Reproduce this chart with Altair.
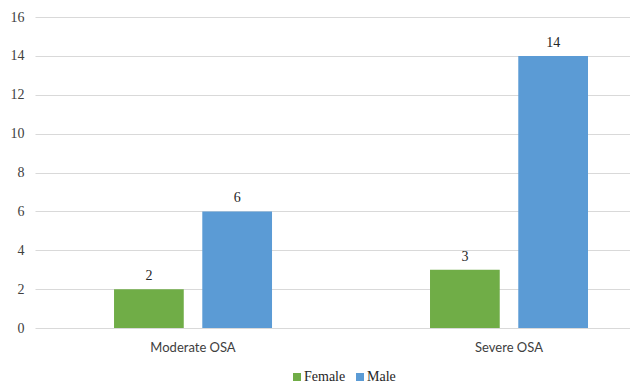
import altair as alt
import pandas as pd

categories = ["Moderate OSA", "Severe OSA"]
female = [2, 3]
male = [6, 14]
sexes = ["Female", "Male"]
colors = ["#70AD47", "#5B9BD5"]

SERIF = "'Liberation Serif', 'Times New Roman', serif"

rows = []
for i, cat in enumerate(categories):
    rows.append({"group": cat, "sex": "Female", "count": female[i]})
    rows.append({"group": cat, "sex": "Male", "count": male[i]})
df = pd.DataFrame(rows)

x_enc = alt.X(
    "group:N",
    sort=categories,
    title=None,
    scale=alt.Scale(paddingInner=0.5, paddingOuter=0.1915, align=0.653),
    axis=alt.Axis(labelAngle=0, grid=False),
)
xoff = alt.XOffset("sex:N", sort=sexes, scale=alt.Scale(paddingInner=0.21, paddingOuter=0))
y_enc = alt.Y(
    "count:Q",
    title=None,
    scale=alt.Scale(domain=[0, 16], nice=False),
    axis=alt.Axis(values=list(range(0, 17, 2)), labelOverlap=False),
)

base = alt.Chart(df).encode(x=x_enc, xOffset=xoff, y=y_enc)

bars = base.mark_bar().encode(
    color=alt.Color(
        "sex:N",
        sort=sexes,
        scale=alt.Scale(domain=sexes, range=colors),
        legend=alt.Legend(
            title=None,
            orient="none",
            direction="horizontal",
            legendX=255,
            legendY=353,
            symbolType="square",
            symbolSize=64,
            symbolStrokeWidth=0,
            labelOffset=0,
            columnPadding=7,
        ),
    ),
)

labels = base.mark_text(
    baseline="bottom", dy=-6, font=SERIF, fontSize=14, color="#262626"
).encode(text="count:Q")

chart = (
    (bars + labels)
    .properties(
        width=595,
        height=311,
        autosize=alt.AutoSizeParams(type="none"),
        padding={"left": 35, "top": 17, "right": 0, "bottom": 59},
        background="white",
    )
    .configure_view(stroke=None)
    .configure_axisX(
        domain=False,
        ticks=False,
        tickSize=0,
        labelPadding=13,
        labelFont="Lato",
        labelFontSize=13,
        labelColor="#404040",
    )
    .configure_axisY(
        domain=False,
        ticks=False,
        tickSize=0,
        labelPadding=11,
        labelFont=SERIF,
        labelFontSize=14,
        labelColor="#404040",
        gridColor="#D9D9D9",
        gridWidth=1,
    )
    .configure_legend(labelFont=SERIF, labelFontSize=14, labelColor="#262626")
)

chart.save("out.html", embed_options={"renderer": "svg", "actions": False})
